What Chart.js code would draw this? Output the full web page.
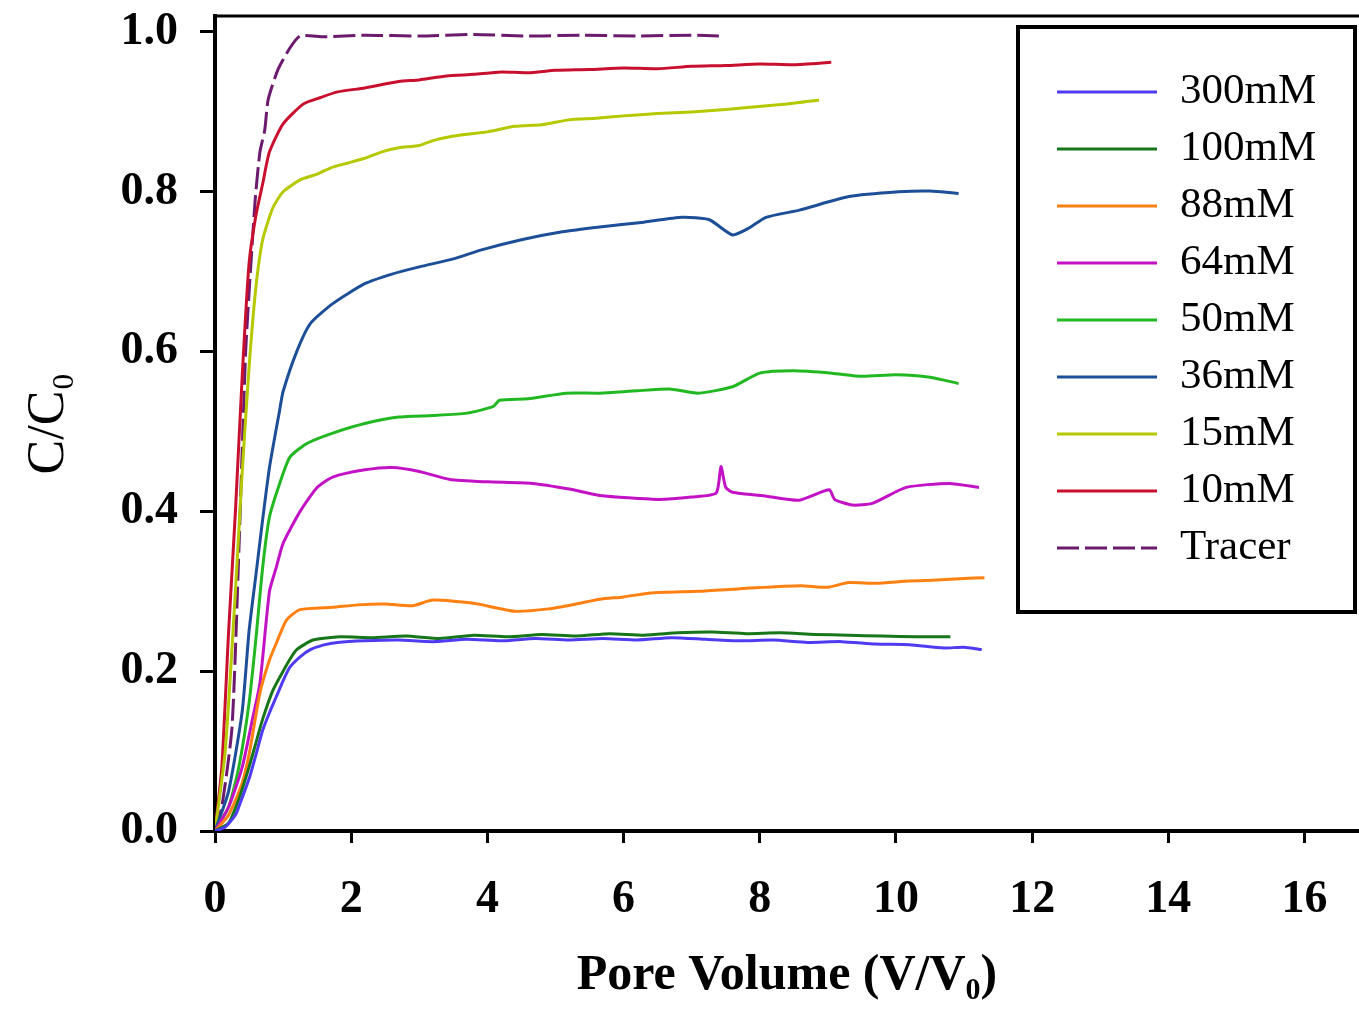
<!DOCTYPE html>
<html lang="en">
  <head>
    <meta charset="UTF-8" />
    <title>Breakthrough curves</title>
    <script src="https://cdn.jsdelivr.net/npm/chart.js"></script>
    <style>
      body { margin: 0; background: #fff; }
      #wrap { width: 1359px; height: 1009px; }
    </style>
  </head>
  <body>
    <div id="wrap"><canvas id="btc"></canvas></div>

    <script>
      // series labels, colours (legend order)
      const labels = ["300mM", "100mM", "88mM", "64mM", "50mM", "36mM", "15mM", "10mM", "Tracer"];
      const colors = ["#4f3cf2", "#17761a", "#ff8012", "#c312c6", "#22b822", "#1d4f98", "#b5c800", "#c8102e", "#6b1a6e"];

      const xTicks = [0, 2, 4, 6, 8, 10, 12, 14, 16];
      const yTicks = [0, 0.2, 0.4, 0.6, 0.8, 1.0];

      // [pore volume, C/C0]
      const s300 = [[0,0],[0.15,0.005],[0.3,0.02],[0.37,0.035],[0.51,0.068],[0.6,0.095],[0.7,0.126],[0.8,0.148],[0.9,0.168],[1.0,0.188],[1.1,0.205],[1.25,0.218],[1.4,0.227],[1.6,0.233],[1.8,0.236],[2.2,0.238],[2.7,0.239],[3.2,0.237],[3.7,0.24],[4.2,0.238],[4.7,0.241],[5.2,0.239],[5.7,0.241],[6.2,0.239],[6.7,0.242],[7.2,0.24],[7.7,0.238],[8.2,0.239],[8.7,0.236],[9.2,0.237],[9.7,0.234],[10.2,0.233],[10.7,0.229],[11.0,0.23],[11.26,0.227]];
      const s100 = [[0,0],[0.2,0.01],[0.35,0.04],[0.5,0.08],[0.6,0.11],[0.7,0.14],[0.85,0.176],[1.0,0.2],[1.1,0.215],[1.2,0.227],[1.44,0.239],[1.83,0.243],[2.3,0.242],[2.8,0.244],[3.3,0.241],[3.8,0.245],[4.3,0.243],[4.8,0.246],[5.3,0.244],[5.8,0.247],[6.3,0.245],[6.8,0.248],[7.3,0.249],[7.8,0.247],[8.3,0.248],[8.8,0.246],[9.3,0.245],[9.8,0.244],[10.3,0.243],[10.8,0.243]];
      const s88 = [[0,0],[0.2,0.02],[0.4,0.06],[0.51,0.1],[0.66,0.173],[0.8,0.214],[0.9,0.235],[1.05,0.264],[1.25,0.277],[1.73,0.28],[2.1,0.283],[2.5,0.284],[2.9,0.282],[3.2,0.289],[3.8,0.285],[4.4,0.275],[4.9,0.278],[5.3,0.284],[5.65,0.29],[6.0,0.293],[6.4,0.298],[7.1,0.3],[7.5,0.302],[7.85,0.304],[8.6,0.307],[9.0,0.305],[9.3,0.311],[9.7,0.31],[10.2,0.313],[10.6,0.314],[11.0,0.316],[11.3,0.317]];
      const s64 = [[0,0],[0.2,0.03],[0.4,0.08],[0.55,0.14],[0.66,0.185],[0.8,0.3],[0.9,0.33],[1.0,0.36],[1.25,0.4],[1.5,0.43],[1.73,0.443],[2.2,0.452],[2.6,0.455],[3.0,0.45],[3.45,0.44],[4.0,0.437],[4.66,0.435],[5.2,0.428],[5.65,0.42],[6.5,0.415],[7.0,0.418],[7.36,0.423],[7.43,0.456],[7.5,0.43],[7.6,0.424],[8.1,0.419],[8.58,0.414],[9.02,0.427],[9.1,0.415],[9.36,0.408],[9.65,0.41],[10.15,0.43],[10.78,0.435],[11.22,0.43]];
      const s50 = [[0,0],[0.2,0.03],[0.35,0.08],[0.5,0.16],[0.6,0.24],[0.7,0.33],[0.8,0.393],[0.95,0.435],[1.1,0.468],[1.35,0.485],[1.73,0.498],[2.2,0.51],[2.7,0.518],[3.2,0.52],[3.7,0.523],[4.08,0.531],[4.18,0.539],[4.6,0.541],[5.16,0.548],[5.65,0.548],[6.2,0.551],[6.7,0.553],[7.1,0.548],[7.6,0.556],[8.0,0.573],[8.5,0.576],[9.06,0.573],[9.5,0.569],[10.0,0.571],[10.5,0.568],[10.92,0.56]];
      const s36 = [[0,0],[0.2,0.05],[0.4,0.15],[0.5,0.25],[0.6,0.32],[0.7,0.39],[0.8,0.455],[0.95,0.527],[1.0,0.55],[1.2,0.6],[1.4,0.635],[1.73,0.66],[2.2,0.685],[2.6,0.697],[3.0,0.706],[3.5,0.716],[3.9,0.727],[4.5,0.74],[5.1,0.75],[5.65,0.756],[6.3,0.762],[6.86,0.768],[7.26,0.765],[7.6,0.746],[7.85,0.755],[8.09,0.768],[8.58,0.777],[9.31,0.794],[10.04,0.8],[10.5,0.801],[10.92,0.798]];
      const s15 = [[0,0],[0.15,0.1],[0.3,0.3],[0.4,0.45],[0.5,0.58],[0.6,0.68],[0.7,0.74],[0.85,0.78],[1.0,0.8],[1.25,0.815],[1.5,0.822],[1.7,0.83],[1.95,0.836],[2.2,0.842],[2.45,0.85],[2.7,0.855],[3.0,0.858],[3.2,0.864],[3.45,0.869],[3.7,0.872],[4.0,0.875],[4.4,0.882],[4.8,0.884],[5.2,0.89],[5.6,0.892],[6.0,0.895],[6.5,0.898],[7.0,0.9],[7.5,0.903],[7.9,0.906],[8.4,0.91],[8.87,0.915]];
      const s10 = [[0,0],[0.1,0.08],[0.2,0.25],[0.3,0.4],[0.4,0.57],[0.5,0.71],[0.6,0.77],[0.7,0.81],[0.8,0.85],[1.0,0.885],[1.3,0.91],[1.55,0.918],[1.8,0.925],[2.2,0.93],[2.7,0.938],[3.0,0.94],[3.4,0.945],[3.8,0.947],[4.2,0.95],[4.6,0.949],[5.0,0.952],[5.5,0.953],[6.0,0.955],[6.5,0.954],[7.0,0.957],[7.5,0.958],[8.0,0.96],[8.5,0.959],[9.05,0.962]];
      const sTracer = [[0,0],[0.1,0.03],[0.25,0.13],[0.35,0.35],[0.45,0.6],[0.52,0.7],[0.59,0.79],[0.66,0.85],[0.73,0.877],[0.78,0.915],[0.92,0.952],[1.1,0.98],[1.25,0.995],[1.6,0.994],[2.2,0.996],[3.0,0.995],[3.8,0.997],[4.6,0.995],[5.4,0.996],[6.2,0.995],[7.0,0.996],[7.4,0.995]];

      const seriesData = [s300, s100, s88, s64, s50, s36, s15, s10, sTracer];

      const datasets = seriesData.map((s, i) => ({
        label: labels[i],
        data: s.map((p) => ({ x: p[0], y: p[1] })),
        borderColor: colors[i],
        backgroundColor: colors[i],
        borderWidth: 3,
        borderDash: labels[i] === "Tracer" ? [22, 6] : [],
        pointRadius: 0,
        tension: 0.2,
      }));

      // top frame line + boxed legend
      const framePlugin = {
        id: "frame",
        afterDraw(chart) {
          const c = chart.ctx;
          const a = chart.chartArea;
          c.save();
          c.strokeStyle = "#000";
          c.lineWidth = 3;
          c.beginPath();
          c.moveTo(a.left - 2, a.top);
          c.lineTo(chart.width, a.top);
          c.stroke();

          // legend box
          c.lineWidth = 4;
          c.fillStyle = "#fff";
          c.fillRect(1018, 27, 337, 585);
          c.strokeRect(1018, 27, 337, 585);
          c.font = "43px 'Liberation Serif', 'Times New Roman', serif";
          c.textBaseline = "middle";
          chart.data.datasets.forEach((ds, i) => {
            const y = 92 + i * 57;
            c.strokeStyle = ds.borderColor;
            c.lineWidth = 3;
            c.setLineDash(ds.borderDash);
            c.beginPath();
            c.moveTo(1057, y);
            c.lineTo(1157, y);
            c.stroke();
            c.setLineDash([]);
            c.fillStyle = "#000";
            c.fillText(ds.label, 1180, y);
          });
          c.restore();
        },
      };

      const tickFont = { family: "'Liberation Serif', serif", size: 46, weight: "bold" };

      new Chart(document.getElementById("btc"), {
        type: "line",
        data: { datasets },
        plugins: [framePlugin],
        options: {
          responsive: true,
          maintainAspectRatio: false,
          animation: false,
          layout: { padding: { top: 16, right: 0, left: 0, bottom: 0 } },
          plugins: { legend: { display: false }, tooltip: { enabled: false } },
          scales: {
            x: {
              type: "linear",
              min: 0,
              max: 16.8,
              afterFit: (s) => { s.height = 178; s.paddingLeft = 0; s.paddingRight = 0; },
              afterBuildTicks: (s) => { s.ticks = xTicks.map((v) => ({ value: v })); },
              border: { color: "#000", width: 4 },
              grid: { drawOnChartArea: false, drawTicks: true, tickLength: 12, tickColor: "#000", tickWidth: 3 },
              ticks: { color: "#000", font: tickFont, padding: 30, maxRotation: 0 },
              title: {
                display: true,
                text: "Pore Volume (V/V₀)",
                color: "#000",
                font: { family: "'Liberation Serif', serif", size: 50, weight: "bold" },
                padding: { top: 0, bottom: 3 },
              },
            },
            y: {
              min: 0,
              max: 1.02,
              afterFit: (s) => { s.width = 215; s.paddingTop = 0; s.paddingBottom = 0; },
              afterBuildTicks: (s) => { s.ticks = yTicks.map((v) => ({ value: v })); },
              border: { color: "#000", width: 4 },
              grid: { drawOnChartArea: false, drawTicks: true, tickLength: 15, tickColor: "#000", tickWidth: 3 },
              ticks: { color: "#000", font: tickFont, padding: 22, callback: (v) => v.toFixed(1) },
              title: {
                display: true,
                text: "C/C₀",
                color: "#000",
                font: { family: "'Liberation Serif', serif", size: 52 },
                padding: { top: 18, bottom: 0 },
              },
            },
          },
        },
      });
    </script>
  </body>
</html>
